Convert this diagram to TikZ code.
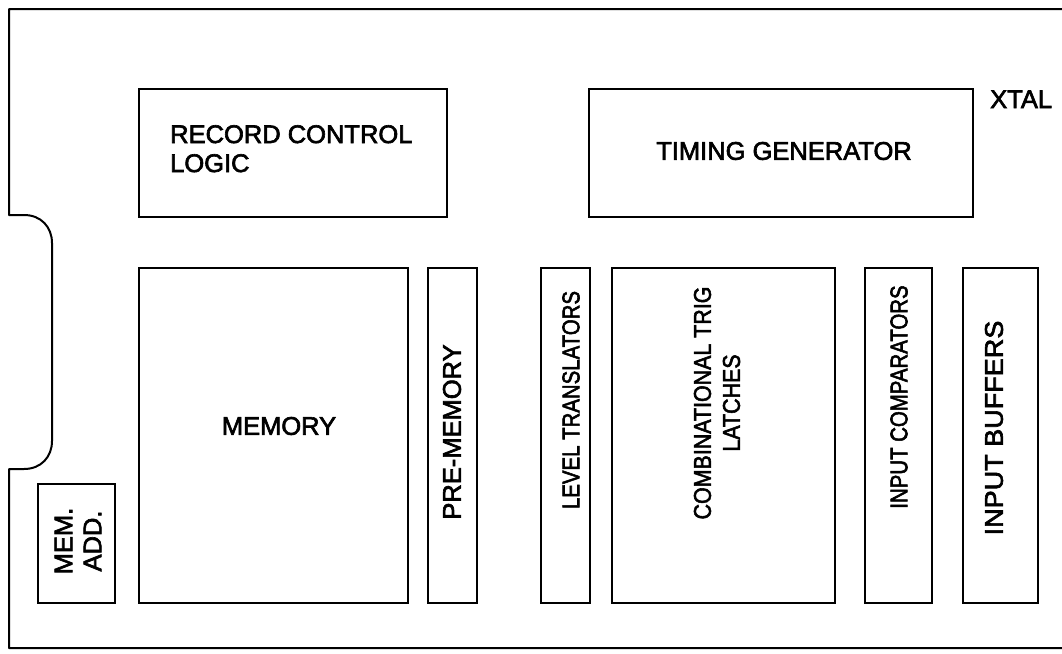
\documentclass[tikz,border=0pt]{standalone}
\usepackage{fontspec}
\setmainfont{Liberation Sans}[FakeBold=2.5]
\begin{document}
\begin{tikzpicture}[x=1pt,y=-1pt,
  blk/.style={draw, line width=1.8pt, inner sep=0pt},
  lbl/.style={inner sep=0pt, font=\fontsize{25.5}{29}\selectfont},
  rlbl/.style={lbl, rotate=90, align=center}]
\useasboundingbox (0,0) rectangle (1062,653);
% outline of the board
\draw[line width=2pt, line join=round]
  (1062,9) -- (9,9) -- (9,215) -- (24,215)
  .. controls (41,215) and (52,227) .. (52,243) -- (52,441)
  .. controls (52,457) and (41,469) .. (24,469) -- (9,469)
  -- (9,648) -- (1062,648);
% blocks
\node[blk, minimum width=308pt, minimum height=128pt] (rcl) at (293,153) {};
\node[blk, minimum width=384pt, minimum height=128pt] (tg) at (781,153) {};
\node[blk, minimum width=269pt, minimum height=335pt] (mem) at (273.5,435.5) {};
\node[blk, minimum width=49pt, minimum height=335pt] (pre) at (452.5,435.5) {};
\node[blk, minimum width=49pt, minimum height=335pt] (lvl) at (565.5,435.5) {};
\node[blk, minimum width=223pt, minimum height=335pt] (comb) at (723.5,435.5) {};
\node[blk, minimum width=67pt, minimum height=335pt] (cmp) at (898.5,435.5) {};
\node[blk, minimum width=75pt, minimum height=335pt] (buf) at (1000.5,435.5) {};
\node[blk, minimum width=77pt, minimum height=119pt] (madd) at (76.5,543.5) {};
% labels
\node[lbl, anchor=north west, align=left] (rclT) at (170,125) {RECORD CONTROL\\LOGIC};
\node[lbl] (tgT) at (784,151) {TIMING GENERATOR};
\node[lbl, anchor=base west] (xtal) at (990,108) {XTAL};
\node[lbl] (memT) at (279,426) {MEMORY};
\node[rlbl] (preT) at (452,432) {PRE-MEMORY};
\node[rlbl] (lvlT) at (571,400) {\scalebox{0.8}[0.95]{LEVEL TRANSLATORS}};
\node[rlbl] (combT) at (717,403) {\scalebox{0.84}[0.95]{COMBINATIONAL TRIG}\\\scalebox{0.84}[0.95]{LATCHES}};
\node[rlbl] (cmpT) at (899,397) {\scalebox{0.8}[0.95]{INPUT COMPARATORS}};
\node[rlbl] (bufT) at (994,428) {\scalebox{1.06}[1]{INPUT BUFFERS}};
\node[rlbl] (maddT) at (78,541) {MEM.\\ADD.};
\end{tikzpicture}
\end{document}
